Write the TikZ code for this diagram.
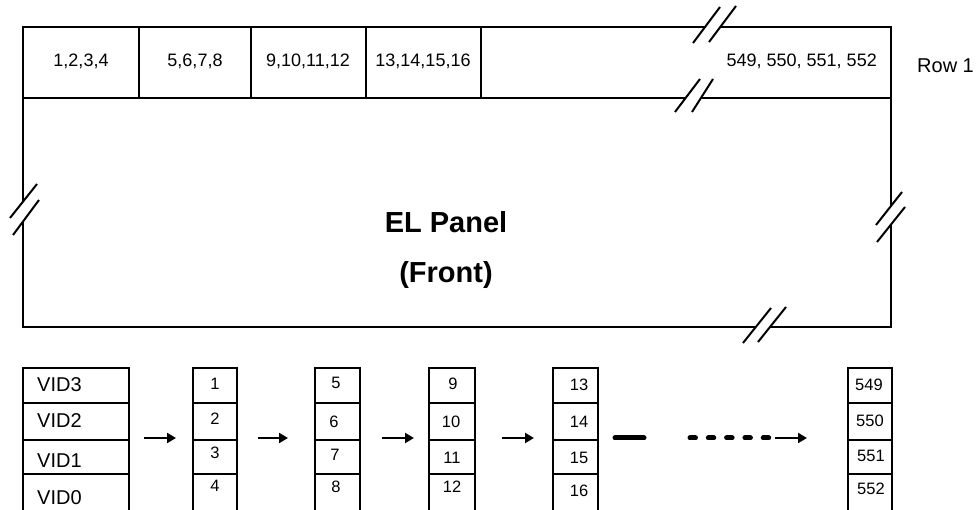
\documentclass[tikz,border=0pt]{standalone}
\usepackage{fontspec}
\setmainfont{Liberation Sans}
\usetikzlibrary{arrows.meta}
\begin{document}
\begin{tikzpicture}[x=1pt,y=-1pt,
  edge/.style={line width=2.2pt},
  brk/.style={line width=2pt},
  celltxt/.style={font=\fontsize{18}{20}\selectfont, anchor=base, inner sep=0pt},
  boxtxt/.style={font=\fontsize{16.5}{18}\selectfont, anchor=base, inner sep=0pt},
  vidtxt/.style={font=\fontsize{20}{22}\selectfont, anchor=base west, inner sep=0pt},
  titletxt/.style={font=\fontsize{29}{32}\selectfont\bfseries, anchor=base, inner sep=0pt},
  flow/.style={line width=2pt, -{Triangle[length=9pt,width=10pt]}},
  thickbar/.style={line width=5pt, line cap=round},
  thickdash/.style={line width=5pt, line cap=round, dash pattern=on 5.5pt off 12.8pt}
]
\useasboundingbox (0,0) rectangle (978,510);

% ---- top row and panel outline (with break gaps) ----
\draw[edge] (706,27) -- (23,27) -- (23,202);
\draw[edge] (23,221) -- (23,327) -- (756,327);
\draw[edge] (770,327) -- (891,327) -- (891,224);
\draw[edge] (891,206) -- (891,27) -- (721,27);
\draw[edge] (23,98) -- (686,98);
\draw[edge] (701,98) -- (891,98);
\foreach \x in {139,251,366,481} \draw[edge] (\x,27) -- (\x,98);

% ---- break marks ----
\draw[brk] (693,43) -- (720,7);
\draw[brk] (709,42) -- (736,6);
\draw[brk] (675,112) -- (700,79);
\draw[brk] (692,112) -- (713,79);
\draw[brk] (10,218) -- (37,184);
\draw[brk] (13,235) -- (39,200);
\draw[brk] (876,225) -- (902,192);
\draw[brk] (877,242) -- (905,207);
\draw[brk] (743,343) -- (771,308);
\draw[brk] (758,342) -- (786,307);

% ---- top row texts ----
\node[celltxt] (c1) at (81,67) {1,2,3,4};
\node[celltxt] (c2) at (195,67) {5,6,7,8};
\node[celltxt] (c3) at (308,67) {9,10,11,12};
\node[celltxt] (c4) at (423,67) {13,14,15,16};
\node[celltxt, anchor=base east] (c5) at (877,67) {549, 550, 551, 552};
\node[font=\fontsize{20}{22}\selectfont, anchor=base west, inner sep=0pt] (row) at (917,73) {Row 1};

% ---- panel title ----
\node[titletxt] (t1) at (446,233) {EL Panel};
\node[titletxt] (t2) at (446,283) {(Front)};

% ---- bottom boxes ----
\foreach \l/\r in {23/129, 193/237, 315/360, 429/475, 553/598, 848/892} {
  \draw[edge] (\l,510) -- (\l,368) -- (\r,368) -- (\r,510);
  \foreach \y in {403,440,474} \draw[edge] (\l,\y) -- (\r,\y);
}

\node[vidtxt] (v3) at (37,392) {VID3};
\node[vidtxt] (v2) at (37,428) {VID2};
\node[vidtxt] (v1) at (37,468) {VID1};
\node[vidtxt] (v0) at (37,505) {VID0};

\node[boxtxt] (n1) at (215,390) {1};
\node[boxtxt] (n2) at (215,425) {2};
\node[boxtxt] (n3) at (215,459) {3};
\node[boxtxt] (n4) at (215,492) {4};

\node[boxtxt] (n5) at (336,389) {5};
\node[boxtxt] (n6) at (334,428) {6};
\node[boxtxt] (n7) at (335,461) {7};
\node[boxtxt] (n8) at (336,493) {8};

\node[boxtxt] (n9) at (453,390) {9};
\node[boxtxt] (n10) at (451,428) {10};
\node[boxtxt] (n11) at (452,464) {11};
\node[boxtxt] (n12) at (452,493) {12};

\node[boxtxt] (n13) at (579,391) {13};
\node[boxtxt] (n14) at (579,428) {14};
\node[boxtxt] (n15) at (579,464) {15};
\node[boxtxt] (n16) at (579,497) {16};

\node[boxtxt] (n549) at (869,391) {549};
\node[boxtxt] (n550) at (870,427) {550};
\node[boxtxt] (n551) at (871,462) {551};
\node[boxtxt] (n552) at (871,495) {552};

% ---- arrows ----
\coordinate (a1s) at (144,438); \coordinate (a1e) at (176,438);
\coordinate (a2s) at (258,438); \coordinate (a2e) at (288,438);
\coordinate (a3s) at (382,438); \coordinate (a3e) at (414,438);
\coordinate (a4s) at (502,438); \coordinate (a4e) at (534,438);
\coordinate (bs) at (615,438); \coordinate (be) at (644,438);
\coordinate (ds) at (690,438); \coordinate (de) at (770,438);
\coordinate (a5s) at (775,438); \coordinate (a5e) at (807,438);
\draw[flow] (a1s) -- (a1e);
\draw[flow] (a2s) -- (a2e);
\draw[flow] (a3s) -- (a3e);
\draw[flow] (a4s) -- (a4e);
\draw[thickbar] (bs) -- (be);
\draw[thickdash] (ds) -- (de);
\draw[flow] (a5s) -- (a5e);
\end{tikzpicture}
\end{document}
